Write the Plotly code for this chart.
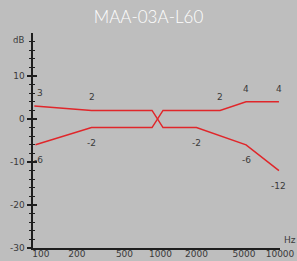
import numpy as np
import plotly.graph_objects as go

# ---- data ----
title = "MAA-03A-L60"
freq_a = [88, 265, 850, 1050, 2000, 5200, 9800]
db_a = [3, 2, 2, -2, -2, -6, -12]
freq_b = [90, 265, 850, 1050, 3150, 5200, 9800]
db_b = [-6, -2, -2, 2, 2, 4, 4]
labels_a_idx = [0, 1, 4, 5, 6]
labels_b_idx = [0, 1, 4, 5, 6]
x_ticks = [100, 200, 500, 1000, 2000, 5000, 10000]
x_tick_text = ["100", "200", "500", "1000", "2000", "5000", "10000"]
y_ticks = [-30, -20, -10, 0, 10]
y_tick_text = ["-30", "-20", "-10", "0", "10"]
y_minor = [v for v in range(-28, 20, 2) if v % 10 != 0]

BG = "#bebebe"
RED = "#e0262a"
AX = "#1e1e1e"
TXT = "#3a3a3a"
FONT = "DejaVu Sans"

fig = go.Figure()
fig.add_trace(go.Scatter(x=freq_a, y=db_a, mode="lines",
                         line=dict(color=RED, width=1.5), xaxis="x", yaxis="y",
                         hoverinfo="skip"))
fig.add_trace(go.Scatter(x=freq_b, y=db_b, mode="lines",
                         line=dict(color=RED, width=1.5), xaxis="x", yaxis="y2",
                         hoverinfo="skip"))

annotations = []
for i in labels_a_idx:
    up = freq_a[i] < 800
    annotations.append(dict(
        x=np.log10(freq_a[i]), y=db_a[i], xref="x", yref="y",
        text=str(db_a[i]), showarrow=False,
        font=dict(family=FONT, size=9, color=TXT),
        yshift=13 if up else -15, xshift=6 if i == 0 else 0))
for i in labels_b_idx:
    up = freq_b[i] > 800
    annotations.append(dict(
        x=np.log10(freq_b[i]), y=db_b[i], xref="x", yref="y",
        text=str(db_b[i]), showarrow=False,
        font=dict(family=FONT, size=9, color=TXT),
        yshift=13 if up else -15, xshift=3 if i == 0 else 0))

annotations.append(dict(x=-0.03, y=20, xref="paper", yref="y", xanchor="right",
                        yanchor="top", text="dB", showarrow=False,
                        font=dict(family=FONT, size=8.5, color=TXT)))
annotations.append(dict(x=1.04, y=-30, xref="paper", yref="y", xanchor="center",
                        yanchor="middle", yshift=8, text="Hz", showarrow=False,
                        font=dict(family=FONT, size=9, color=TXT)))

yrange = [-30, 20]
yax_common = dict(range=yrange, showgrid=False, zeroline=False, fixedrange=True,
                  automargin=False)

fig.update_layout(
    width=297, height=261,
    margin=dict(l=33, r=17, t=33, b=13),
    paper_bgcolor=BG, plot_bgcolor=BG,
    showlegend=False,
    title=dict(text=title, x=0.5, xanchor="center", y=0.935, yanchor="middle",
               yref="container", automargin=False,
               font=dict(family="Lato", size=17, color="#ffffff", weight=300)),
    xaxis=dict(type="log", range=[np.log10(85.8), 4.0], showgrid=False,
               zeroline=False, showline=True, linecolor=AX, linewidth=1.5,
               ticks="", tickvals=x_ticks, ticktext=x_tick_text, automargin=False,
               tickfont=dict(family=FONT, size=9, color=TXT), ticklabelstandoff=-3),
    yaxis=dict(**yax_common, showline=True, linecolor=AX, linewidth=2.5,
               ticks="outside", ticklen=4, tickwidth=1.5, tickcolor=AX,
               tickvals=y_ticks, ticktext=y_tick_text,
               tickfont=dict(family=FONT, size=9, color=TXT),
               minor=dict(tickvals=y_minor, ticks="outside", ticklen=2,
                          tickwidth=1.2, tickcolor=AX)),
    yaxis2=dict(**yax_common, overlaying="y", side="left", showline=False,
                ticks="inside", ticklen=4, tickwidth=1.5, tickcolor=AX,
                tickvals=y_ticks, showticklabels=False,
                minor=dict(tickvals=y_minor, ticks="inside", ticklen=2,
                           tickwidth=1.2, tickcolor=AX)),
    annotations=annotations,
)

fig.write_html("out.html", config={"displayModeBar": False, "staticPlot": True},
               post_script="document.body.style.margin='0';document.body.style.background='%s';" % BG)
